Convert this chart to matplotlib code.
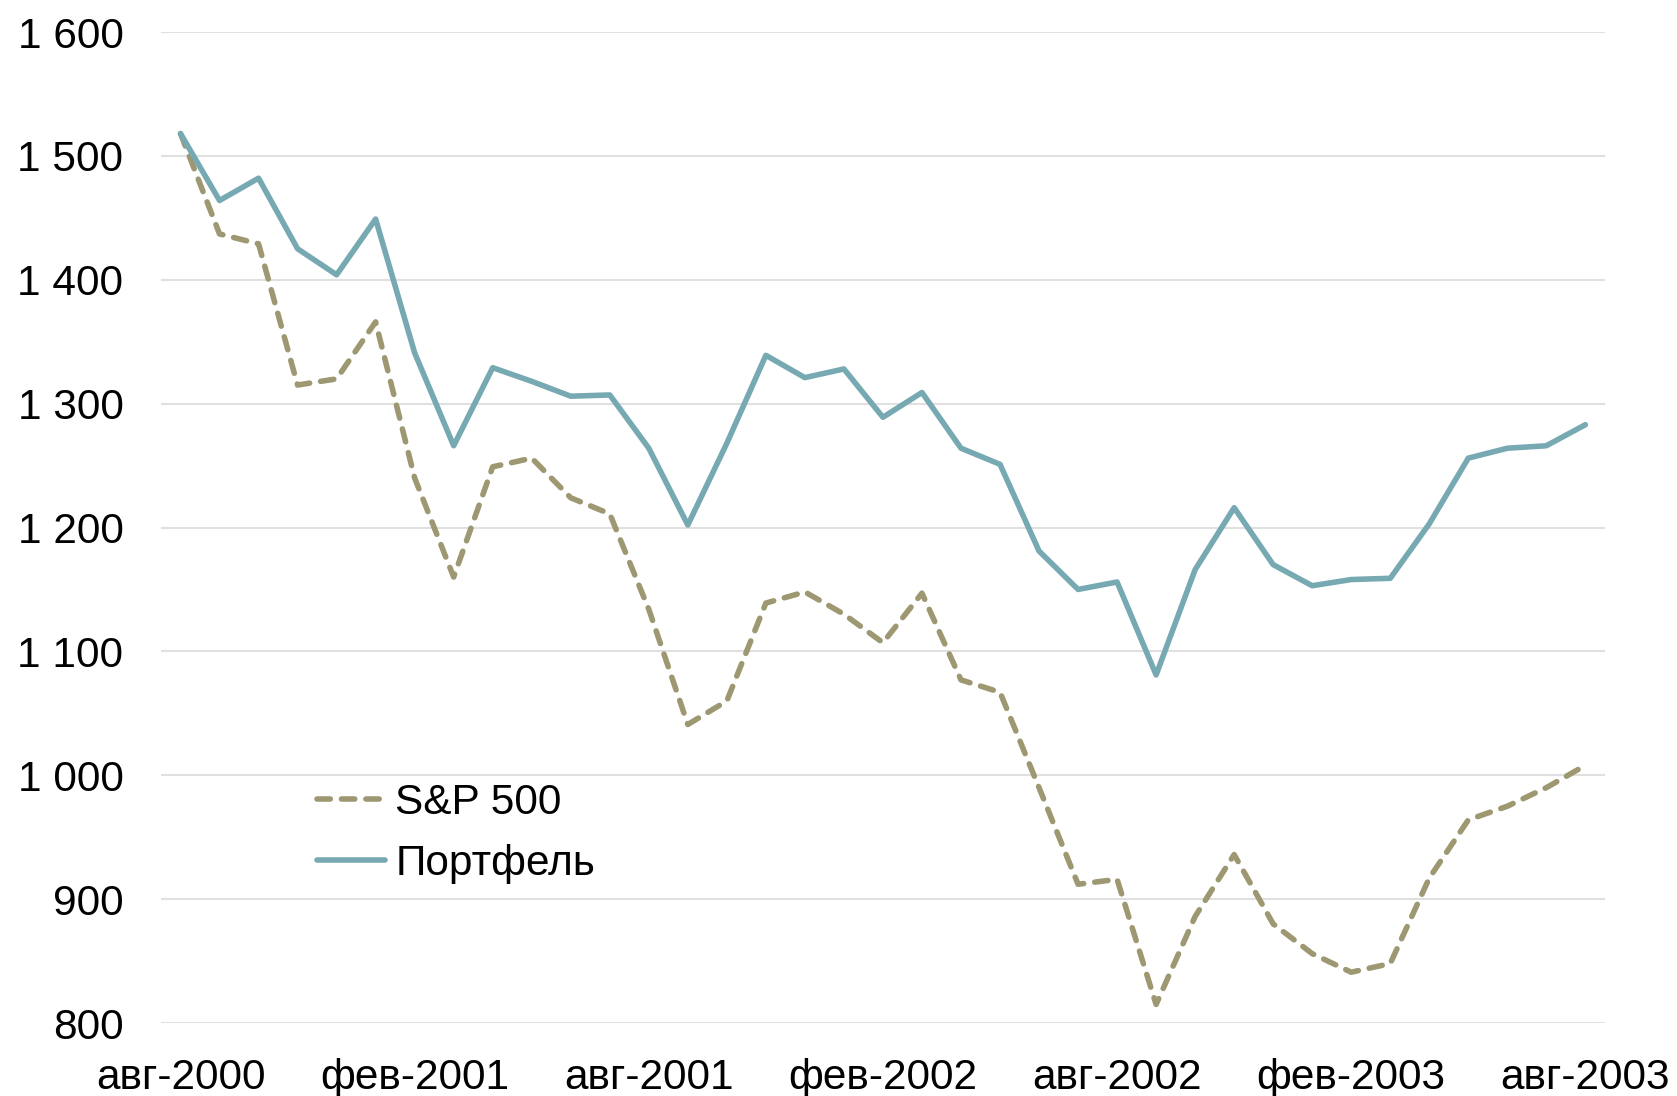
import matplotlib
matplotlib.use("Agg")
import matplotlib.pyplot as plt
from matplotlib.ticker import FuncFormatter

months = ["авг-2000","сен-2000","окт-2000","ноя-2000","дек-2000",
          "янв-2001","фев-2001","мар-2001","апр-2001","май-2001","июн-2001","июл-2001",
          "авг-2001","сен-2001","окт-2001","ноя-2001","дек-2001",
          "янв-2002","фев-2002","мар-2002","апр-2002","май-2002","июн-2002","июл-2002",
          "авг-2002","сен-2002","окт-2002","ноя-2002","дек-2002",
          "янв-2003","фев-2003","мар-2003","апр-2003","май-2003","июн-2003","июл-2003",
          "авг-2003"]

sp500 = [1518, 1437, 1429, 1315, 1320, 1366, 1240, 1160, 1249, 1256, 1224, 1211,
         1134, 1041, 1060, 1139, 1148, 1130, 1107, 1147, 1077, 1067, 990, 912,
         916, 815, 886, 936, 880, 856, 841, 848, 917, 964, 975, 990, 1008]

portfolio = [1518, 1464, 1482, 1425, 1404, 1449, 1341, 1266, 1329, 1318, 1306, 1307,
             1264, 1202, 1268, 1339, 1321, 1328, 1289, 1309, 1264, 1251, 1181, 1150,
             1156, 1081, 1166, 1216, 1170, 1153, 1158, 1159, 1203, 1256, 1264, 1266, 1283]

tick_idx = [0, 6, 12, 18, 24, 30, 36]
y_ticks = [800, 900, 1000, 1100, 1200, 1300, 1400, 1500, 1600]

plt.rcParams['font.family'] = ['Liberation Sans', 'DejaVu Sans']
FS = 30.5

fig = plt.figure(figsize=(16.77, 10.96), dpi=100)
ax = fig.add_axes([0.096, 0.0666, 0.861, 0.9042])

x = list(range(len(months)))
ax.plot(x, sp500, color='#9D9872', lw=4.0, linestyle=(0, (2.4, 2.0)),
        dash_capstyle='round', dash_joinstyle='round', label='S&P 500', zorder=3)
ax.plot(x, portfolio, color='#77A9B3', lw=4.0, solid_capstyle='round',
        solid_joinstyle='round', label='Портфель', zorder=4)

ax.set_xlim(-0.5, 36.5)
ax.set_ylim(800, 1600)
ax.set_yticks(y_ticks)
ax.yaxis.set_major_formatter(FuncFormatter(lambda v, p: f"{int(v):,}".replace(",", " ")))
ax.set_xticks(tick_idx)
ax.set_xticklabels([months[i] for i in tick_idx])
ax.grid(axis='y', color='#E0E0E0', lw=1.5)
ax.set_axisbelow(True)
for s in ax.spines.values():
    s.set_visible(False)
ax.tick_params(axis='both', length=0, labelsize=FS, colors='black')
ax.tick_params(axis='y', pad=27)
ax.tick_params(axis='x', pad=25)

leg = ax.legend(loc='upper left', bbox_to_anchor=(0.108, 0.242), frameon=False,
                fontsize=FS, handlelength=1.6, handletextpad=0.25, borderpad=0,
                borderaxespad=0, labelspacing=0.48)

fig.savefig("out.png", dpi=100)
